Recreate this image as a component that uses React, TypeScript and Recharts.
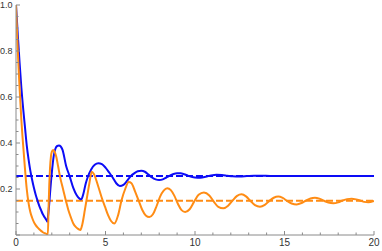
import { Line, LineChart, ReferenceLine, XAxis, YAxis } from "recharts";

const blueT = [
  0, 0.1, 0.2, 0.3, 0.4, 0.5, 0.6, 0.7, 0.8, 0.9, 1.0, 1.1, 1.2, 1.3, 1.4, 1.5, 1.6, 1.7, 1.75,
  1.8, 1.85, 1.9, 2.0, 2.1, 2.2, 2.3, 2.4, 2.5, 2.6, 2.8, 3.0, 3.2, 3.4, 3.55, 3.65, 3.75, 3.9,
  4.0, 4.2, 4.4, 4.6, 4.8, 5.0, 5.2, 5.4, 5.6, 5.8, 6.0, 6.2, 6.4, 6.6, 6.8, 7.0, 7.2, 7.4, 7.6,
  7.8, 8.0, 8.2, 8.4, 8.6, 8.8, 9.0, 9.2, 9.4, 9.6, 9.8, 10.0, 10.3, 10.6, 10.9, 11.2, 11.5,
  11.8, 12.1, 12.5, 12.9, 13.3, 13.7, 14.2, 15, 16, 17, 18, 19, 20
];
const blueV = [
  1.0, 0.87, 0.75, 0.64, 0.55, 0.47, 0.39, 0.33, 0.28, 0.24, 0.205, 0.175, 0.15, 0.127, 0.108,
  0.09, 0.077, 0.065, 0.058, 0.09, 0.13, 0.18, 0.27, 0.34, 0.375, 0.387, 0.389, 0.385, 0.37,
  0.3, 0.255, 0.205, 0.172, 0.158, 0.155, 0.175, 0.225, 0.25, 0.285, 0.305, 0.312, 0.308, 0.293,
  0.272, 0.25, 0.225, 0.213, 0.218, 0.235, 0.255, 0.268, 0.277, 0.279, 0.275, 0.263, 0.25,
  0.242, 0.239, 0.242, 0.25, 0.258, 0.265, 0.268, 0.268, 0.264, 0.258, 0.253, 0.25, 0.249,
  0.253, 0.259, 0.262, 0.261, 0.258, 0.255, 0.254, 0.256, 0.258, 0.258, 0.257, 0.257, 0.257,
  0.257, 0.257, 0.257, 0.257
];

const orangeT = [
  0, 0.1, 0.2, 0.3, 0.4, 0.5, 0.6, 0.7, 0.8, 0.9, 1.0, 1.1, 1.2, 1.3, 1.4, 1.5, 1.6, 1.7, 1.78,
  1.82, 1.86, 1.9, 1.95, 2.0, 2.07, 2.15, 2.25, 2.35, 2.46, 2.64, 2.8, 2.92, 3.05, 3.2, 3.35,
  3.5, 3.6, 3.7, 3.85, 4.0, 4.1, 4.23, 4.35, 4.6, 4.8, 4.97, 5.15, 5.3, 5.5, 5.7, 5.9, 6.1, 6.3,
  6.45, 6.65, 6.84, 7.05, 7.25, 7.45, 7.65, 7.85, 8.05, 8.25, 8.45, 8.65, 8.85, 9.05, 9.25,
  9.45, 9.7, 9.95, 10.2, 10.5, 10.8, 11.05, 11.3, 11.58, 11.85, 12.1, 12.35, 12.6, 12.85, 13.1,
  13.35, 13.63, 13.9, 14.15, 14.4, 14.65, 14.9, 15.15, 15.4, 15.68, 15.95, 16.2, 16.45, 16.7,
  16.95, 17.2, 17.45, 17.73, 18.0, 18.25, 18.5, 18.75, 19.0, 19.25, 19.45, 19.68, 20
];
const orangeV = [
  1.0, 0.8, 0.64, 0.5, 0.39, 0.29, 0.2, 0.14, 0.1, 0.075, 0.056, 0.043, 0.033, 0.025, 0.018,
  0.012, 0.008, 0.005, 0.003, 0.12, 0.22, 0.29, 0.34, 0.362, 0.37, 0.363, 0.34, 0.3, 0.254,
  0.196, 0.145, 0.11, 0.08, 0.05, 0.034, 0.025, 0.022, 0.045, 0.11, 0.18, 0.225, 0.275, 0.265,
  0.21, 0.16, 0.123, 0.085, 0.062, 0.05, 0.085, 0.152, 0.2, 0.23, 0.225, 0.19, 0.152, 0.11,
  0.085, 0.078, 0.09, 0.125, 0.167, 0.193, 0.203, 0.195, 0.17, 0.135, 0.108, 0.1, 0.112, 0.145,
  0.175, 0.185, 0.172, 0.145, 0.122, 0.116, 0.127, 0.15, 0.17, 0.177, 0.168, 0.148, 0.13, 0.123,
  0.131, 0.148, 0.162, 0.167, 0.161, 0.148, 0.137, 0.133, 0.139, 0.15, 0.159, 0.162, 0.158,
  0.149, 0.141, 0.138, 0.142, 0.15, 0.156, 0.158, 0.155, 0.149, 0.144, 0.142, 0.148
];

// long-run levels (blue, orange)
const levels = [0.257, 0.149];

const xTicks = Array.from({ length: 21 }, (_, i) => i);
const xLabels = [0, 5, 10, 15, 20];
const yTicks = Array.from({ length: 21 }, (_, i) => i * 0.05);
const yLabels = ["0.2", "0.4", "0.6", "0.8", "1.0"];

const COLORS = ["#0c0cf6", "#ff8c14"];
const AXIS = "#8a8a8a";
const LABEL = "#333";
const FONT = "Liberation Sans, Arial, sans-serif";

const blueData = blueT.map((t, i) => ({ t, v: blueV[i] }));
const orangeData = orangeT.map((t, i) => ({ t, v: orangeV[i] }));

function XTick(props: any) {
  const { x, y, payload } = props;
  const major = xLabels.includes(payload.value);
  return (
    <g>
      <line x1={x} x2={x} y1={y} y2={y - (major ? 4 : 2.5)} stroke={AXIS} strokeWidth={1} />
      {major && (
        <text x={x} y={y + 11} textAnchor="middle" fill={LABEL} fontSize={10} fontFamily={FONT}>
          {payload.value}
        </text>
      )}
    </g>
  );
}

function YTick(props: any) {
  const { x, y, payload } = props;
  const label = payload.value.toFixed(1);
  const major = Math.abs(payload.value * 5 - Math.round(payload.value * 5)) < 1e-6;
  return (
    <g>
      <line x1={x} x2={x + (major ? 4 : 2.5)} y1={y} y2={y} stroke={AXIS} strokeWidth={1} />
      {major && yLabels.includes(label) && (
        <text x={x - 3.5} y={y + 3.3} textAnchor="end" fill={LABEL} fontSize={9} fontFamily={FONT}>
          {label}
        </text>
      )}
    </g>
  );
}

export default function App() {
  return (
    <div style={{ position: "absolute", left: 0, top: 0, background: "#fff" }}>
      <LineChart width={382} height={251} margin={{ top: 5, right: 8, left: 0, bottom: 0 }}>
        <XAxis
          dataKey="t"
          type="number"
          domain={[0, 20]}
          ticks={xTicks}
          interval={0}
          tick={<XTick />}
          tickLine={false}
          tickSize={0}
          tickMargin={0}
          height={16}
          allowDataOverflow
          axisLine={{ stroke: AXIS }}
        />
        <YAxis
          type="number"
          domain={[0, 1]}
          ticks={yTicks}
          interval={0}
          tick={<YTick />}
          tickLine={false}
          tickSize={0}
          tickMargin={0}
          width={16}
          allowDataOverflow
          axisLine={{ stroke: AXIS }}
        />
        {levels.map((lv, i) => (
          <ReferenceLine key={i} y={lv} stroke={COLORS[i]} strokeWidth={2} strokeDasharray="7 3" />
        ))}
        <Line data={blueData} dataKey="v" type="monotone" stroke={COLORS[0]} strokeWidth={2} dot={false} isAnimationActive={false} />
        <Line data={orangeData} dataKey="v" type="monotone" stroke={COLORS[1]} strokeWidth={2} dot={false} isAnimationActive={false} />
      </LineChart>
    </div>
  );
}
